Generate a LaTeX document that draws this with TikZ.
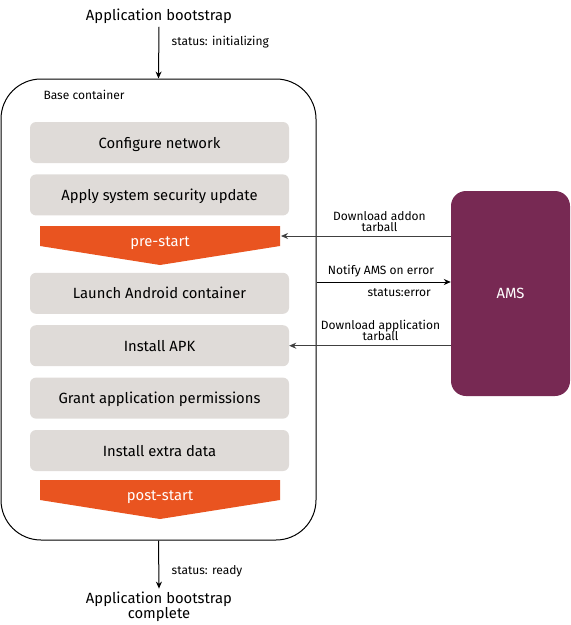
\documentclass[tikz,border=0pt]{standalone}
\usepackage{fontspec}
\setmainfont{Fira Sans}
\usetikzlibrary{positioning,arrows.meta}
\definecolor{stagegray}{HTML}{DFDBD8}
\definecolor{hookorange}{HTML}{E95420}
\definecolor{amspurple}{HTML}{772953}
\tikzset{
	bigtext/.style={font=\fontsize{14.8}{17}\selectfont},
	smalltext/.style={font=\fontsize{12}{14}\selectfont},
	stagebox/.style={fill=stagegray,rounded corners=6pt,minimum width=259pt,minimum height=41pt,inner sep=0pt,text height=13pt,text depth=2pt,bigtext},
	arr/.style={line width=1pt,-{Stealth[length=7pt,width=6pt]}},
}

\begin{document}
\begin{tikzpicture}[x=1pt,y=-1pt,node distance=11pt]
	\useasboundingbox (0,0) rectangle (571,625);
	%% start and end
	\node[bigtext] (boot) at (159,16) {Application bootstrap};
	\node[bigtext,align=center] (done) at (159,607) {Application bootstrap\\[-2pt]complete};
	%% base container
	\node[draw,line width=1pt,rounded corners=40pt,minimum width=315pt,minimum height=461pt] (base) at (158.5,309.5) {};
	\node[smalltext,anchor=west] (basetitle) at (40,95) {Base container};
	% stages
	\node[stagebox] (net) at (159.5,142.5) {Configure network};
	\node[stagebox,below=of net] (upd) {Apply system security update};
	\node[stagebox,below=57pt of upd] (launch) {Launch Android container};
	\node[stagebox,below=of launch] (apk) {Install APK};
	\node[stagebox,below=of apk] (perm) {Grant application permissions};
	\node[stagebox,below=of perm] (extra) {Install extra data};
	% hooks
	\fill[hookorange] (40,226) -- (280,226) -- (280,246) -- (160,265) -- (40,246) -- cycle;
	\node[bigtext,text=white] (pre) at (160,243) {pre-start};
	\coordinate (pre-e) at (281,236);
	\fill[hookorange] (40,480) -- (280,480) -- (280,500) -- (160,519) -- (40,500) -- cycle;
	\node[bigtext,text=white] (post) at (160,497) {post-start};
	%% AMS
	\node[fill=amspurple,rounded corners=15pt,minimum width=119pt,minimum height=205pt,text=white,bigtext] (ams) at (510.5,293.5) {AMS};
	% connectors
	\draw[arr] (boot.south) -- (base.north)
		node[pos=0.3,anchor=west,xshift=9pt,smalltext] {status: initializing};
	\draw[arr] (base.south) -- (done.north)
		node[pos=0.63,anchor=west,xshift=9pt,smalltext] {status: ready};
	\draw[arr,black!75] (ams.west |- pre-e) -- (pre-e)
		node[pos=0.42,above=1pt,align=center,smalltext,text=black] {Download addon\\[-3pt]tarball};
	\draw[arr] (base.east |- 0,282) -- (ams.west |- 0,282)
		node[pos=0.48,above=1pt,smalltext] {Notify AMS on error}
		node[pos=0.88,below left=3pt and 0pt,smalltext] {status:error};
	\draw[arr,black!75] (ams.west |- apk.east) -- (apk.east)
		node[pos=0.435,above=1pt,align=center,smalltext,text=black] {Download application\\[-3pt]tarball};
\end{tikzpicture}
\end{document}
